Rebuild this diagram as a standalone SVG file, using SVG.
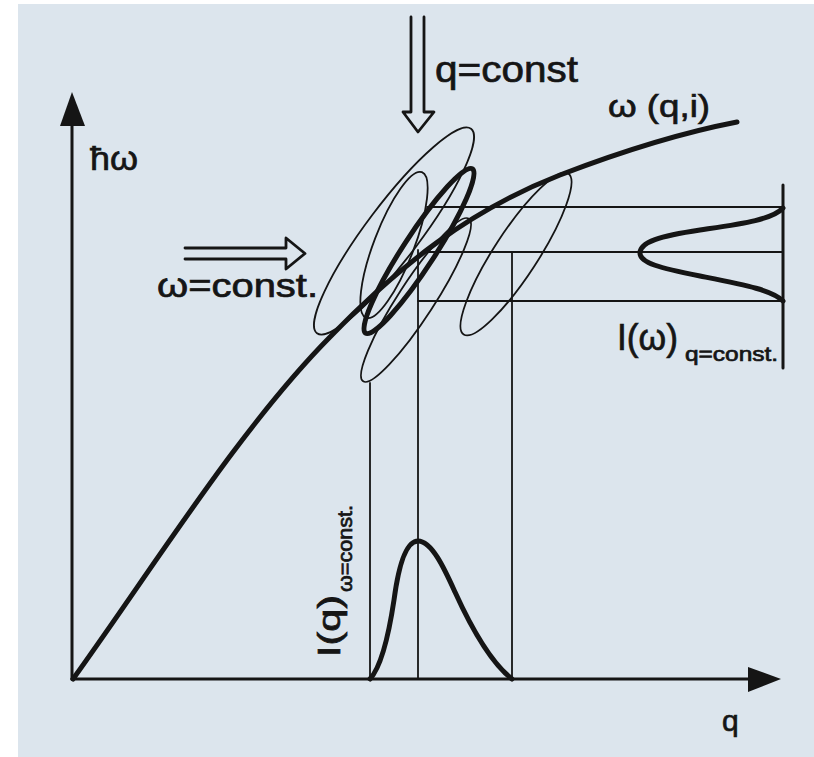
<svg xmlns="http://www.w3.org/2000/svg" width="814" height="757" viewBox="0 0 814 757">
<style>
.ink{fill:none;stroke:#151515;stroke-linecap:round;stroke-linejoin:round}
.thin{stroke-width:1.8}
.grid{stroke-width:1.8}
.axis{stroke-width:3}
.thick{stroke-width:5}
.arr{stroke-width:2.8}
.head{fill:#151515;stroke:none}
text{font-family:"Liberation Sans","DejaVu Sans",sans-serif;fill:#151515;stroke:#151515;stroke-width:0.7}
</style>
<rect x="0" y="0" width="814" height="757" fill="#ffffff"/>
<rect x="18" y="4" width="796" height="753" fill="#dce5ed"/>
<g id="axes">
<path class="ink axis" d="M72,679 V120"/>
<polygon class="head" points="72,92 60,126 85,126"/>
<path class="ink axis" d="M72,679 H752"/>
<polygon class="head" points="781,679 748,667 748,692"/>
<text x="90" y="170" font-size="34" textLength="48" lengthAdjust="spacingAndGlyphs">ħω</text>
<text x="722" y="731" font-size="30">q</text>
</g>
<g id="connectors">
<path class="ink grid" d="M427,207 H783 M423,252 H783 M418,301 H783"/>
<path class="ink grid" d="M370,383 V679 M418,250 V679 M512,253 V679"/>
<path class="ink axis" d="M783,185 V368"/>
</g>
<g id="ellipses">
<ellipse class="ink thin" cx="394" cy="231" rx="128" ry="27" transform="rotate(-53 394 231)"/>
<ellipse class="ink thin" cx="394" cy="245" rx="78" ry="20" transform="rotate(-69 394 245)"/>
<ellipse class="ink thin" cx="416" cy="300" rx="97" ry="18" transform="rotate(-57 416 300)"/>
<ellipse class="ink thin" cx="516" cy="254" rx="96" ry="22" transform="rotate(-57 516 254)"/>
<ellipse class="ink thick" cx="419" cy="251" rx="98" ry="16" transform="rotate(-57 419 251)"/>
</g>
<g id="dispersion">
<path class="ink thick" d="M73,679 C155,565 240,428 330,337 C400,265 470,210 560,175 C620,152 680,133 737,122"/>
<text x="608" y="117" font-size="32" textLength="102" lengthAdjust="spacingAndGlyphs">ω (q,i)</text>
</g>
<g id="q-const">
<path class="ink arr" d="M411,17 V112 H403 L418,132 L434,112 H424 V17"/>
<text x="435" y="82" font-size="37" textLength="143" lengthAdjust="spacingAndGlyphs">q=const</text>
</g>
<g id="w-const">
<path class="ink arr" d="M185,248 H286 V238 L305,253.5 L286,269 V259 H185"/>
<text x="157" y="297" font-size="33" textLength="161" lengthAdjust="spacingAndGlyphs">ω=const.</text>
</g>
<g id="I-omega">
<path class="ink thick" d="M783,208 C772,220 740,224 700,230 C660,236 640,242 640,253 C640,263 660,268 700,276 C745,285 772,290 783,301"/>
<text x="617" y="350" font-size="37" textLength="61" lengthAdjust="spacingAndGlyphs">I(ω)</text>
<text x="685" y="361" font-size="20" textLength="93" lengthAdjust="spacingAndGlyphs">q=const.</text>
</g>
<g id="I-q">
<path class="ink thick" d="M370,679 C380,668 388,640 394,600 C398,570 405,541 418,541 C432,541 445,570 455,592 C470,625 490,662 512,679"/>
<g transform="translate(340,657) rotate(-90)">
<text x="0" y="0" font-size="32" textLength="62" lengthAdjust="spacingAndGlyphs">I(q)</text>
<text x="65" y="12" font-size="20" textLength="87" lengthAdjust="spacingAndGlyphs">ω=const.</text>
</g>
</g>
</svg>
